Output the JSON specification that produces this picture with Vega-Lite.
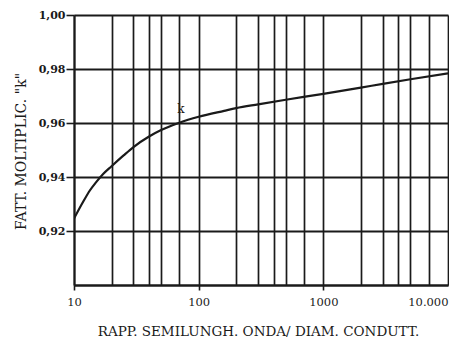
{
  "$schema": "https://vega.github.io/schema/vega-lite/v6.json",
  "autosize": "none",
  "width": 374,
  "height": 270,
  "padding": {"left": 74, "top": 15, "right": 1, "bottom": 53},
  "background": "#ffffff",
  "config": {
    "view": {"stroke": null},
    "font": "DejaVu Serif"
  },
  "datasets": {
    "curve": [
      {"ratio": 10, "k": 0.9246},
      {"ratio": 11.9, "k": 0.931},
      {"ratio": 13.4, "k": 0.935},
      {"ratio": 15, "k": 0.938},
      {"ratio": 17.2, "k": 0.9412},
      {"ratio": 20, "k": 0.944},
      {"ratio": 25, "k": 0.948},
      {"ratio": 30, "k": 0.9511},
      {"ratio": 40, "k": 0.955},
      {"ratio": 50, "k": 0.9574},
      {"ratio": 70, "k": 0.9601},
      {"ratio": 100, "k": 0.9623},
      {"ratio": 160, "k": 0.9645},
      {"ratio": 200, "k": 0.9655},
      {"ratio": 300, "k": 0.9669},
      {"ratio": 500, "k": 0.9686},
      {"ratio": 1000, "k": 0.9708},
      {"ratio": 2000, "k": 0.9731},
      {"ratio": 3000, "k": 0.9745},
      {"ratio": 5000, "k": 0.9762},
      {"ratio": 10000, "k": 0.9784}
    ],
    "marker": [
      {"ratio": 72, "k": 0.9651, "label": "k"}
    ]
  },
  "layer": [
    {
      "data": {"name": "curve"},
      "mark": {"type": "line", "color": "#1a1a1a", "strokeWidth": 2.2, "interpolate": "monotone", "clip": true},
      "encoding": {
        "x": {
          "field": "ratio",
          "type": "quantitative",
          "scale": {"type": "log", "domain": [10, 10000], "nice": false},
          "axis": {
            "title": "RAPP. SEMILUNGH. ONDA/ DIAM. CONDUTT.",
            "titleFont": "DejaVu Serif",
            "titleFontSize": 13.5,
            "titleFontWeight": "normal",
            "titleColor": "#1a1a1a",
            "titleX": 184,
            "titleY": 50,
            "titleAnchor": "middle",
            "titleAlign": "center",
            "titleBaseline": "alphabetic",
            "values": [10, 20, 30, 40, 50, 70, 100, 200, 300, 400, 500, 700, 1000, 2000, 3000, 4000, 5000, 7000, 10000],
            "labelExpr": "datum.value == 10000 ? '10.000' : (datum.value == 10 || datum.value == 100 || datum.value == 1000 ? datum.label : '')",
            "format": "d",
            "labelFont": "DejaVu Serif",
            "labelFontSize": 11.5,
            "labelColor": "#1a1a1a",
            "labelAlign": {"expr": "datum.value >= 10000 ? 'right' : 'center'"},
            "labelPadding": 6,
            "labelOverlap": false,
            "labelBound": false,
            "tickSize": 5,
            "tickWidth": 1.6,
            "tickColor": "#1a1a1a",
            "tickOpacity": {"condition": {"test": "datum.value == 10 || datum.value == 100 || datum.value == 1000", "value": 1}, "value": 0},
            "grid": true,
            "gridColor": "#1a1a1a",
            "gridWidth": 1.7,
            "gridOpacity": 1,
            "domain": true,
            "domainColor": "#1a1a1a",
            "domainWidth": 2
          }
        },
        "y": {
          "field": "k",
          "type": "quantitative",
          "scale": {"domain": [0.9, 1.0], "nice": false, "zero": false},
          "axis": {
            "title": "FATT. MOLTIPLIC. \"k\"",
            "titleFont": "DejaVu Serif",
            "titleFontSize": 14,
            "titleFontWeight": "normal",
            "titleColor": "#1a1a1a",
            "titleAngle": -90,
            "titleX": -49,
            "titleY": 136,
            "titleAlign": "center",
            "titleBaseline": "alphabetic",
            "values": [0.9, 0.92, 0.94, 0.96, 0.98, 1.0],
            "labelExpr": "datum.value < 0.91 ? '' : replace(format(datum.value, '.2f'), '.', ',')",
            "labelFont": "DejaVu Serif",
            "labelFontSize": 11,
            "labelFontWeight": "bold",
            "labelColor": "#1a1a1a",
            "labelPadding": 1,
            "labelBound": false,
            "tickSize": 8,
            "tickWidth": 1.6,
            "tickColor": "#1a1a1a",
            "tickOpacity": {"condition": {"test": "datum.value < 0.91", "value": 0}, "value": 1},
            "grid": true,
            "gridColor": "#1a1a1a",
            "gridWidth": 2,
            "gridOpacity": 1,
            "domain": true,
            "domainColor": "#1a1a1a",
            "domainWidth": 2
          }
        }
      }
    },
    {
      "data": {"name": "marker"},
      "mark": {"type": "text", "font": "DejaVu Serif", "fontSize": 12, "color": "#1a1a1a", "baseline": "middle", "align": "center"},
      "encoding": {
        "x": {"field": "ratio", "type": "quantitative"},
        "y": {"field": "k", "type": "quantitative"},
        "text": {"field": "label"}
      }
    }
  ]
}
